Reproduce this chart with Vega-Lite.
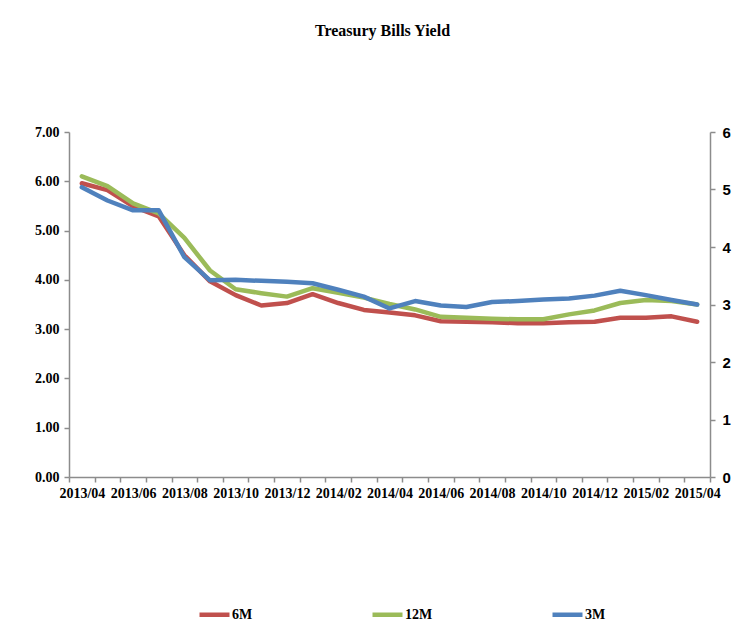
{
  "$schema": "https://vega.github.io/schema/vega-lite/v6.json",
  "width": 641,
  "height": 345,
  "autosize": {"type": "none"},
  "padding": {"left": 69, "top": 132, "right": 35, "bottom": 150},
  "background": "white",
  "title": {"text": "Treasury Bills Yield", "font": "Liberation Serif", "fontSize": 16, "fontWeight": "bold", "color": "#000000", "offset": 86, "dx": -7, "anchor": "middle"},
  "datasets": {
    "yields": [
      {"month": "2013/04", "series": "6M", "yield": 5.96}, {"month": "2013/05", "series": "6M", "yield": 5.82}, {"month": "2013/06", "series": "6M", "yield": 5.49}, {"month": "2013/07", "series": "6M", "yield": 5.29}, {"month": "2013/08", "series": "6M", "yield": 4.50}, {"month": "2013/09", "series": "6M", "yield": 3.97}, {"month": "2013/10", "series": "6M", "yield": 3.69}, {"month": "2013/11", "series": "6M", "yield": 3.48}, {"month": "2013/12", "series": "6M", "yield": 3.53}, {"month": "2014/01", "series": "6M", "yield": 3.71}, {"month": "2014/02", "series": "6M", "yield": 3.53}, {"month": "2014/03", "series": "6M", "yield": 3.39}, {"month": "2014/04", "series": "6M", "yield": 3.34}, {"month": "2014/05", "series": "6M", "yield": 3.28}, {"month": "2014/06", "series": "6M", "yield": 3.16}, {"month": "2014/07", "series": "6M", "yield": 3.15}, {"month": "2014/08", "series": "6M", "yield": 3.14}, {"month": "2014/09", "series": "6M", "yield": 3.12}, {"month": "2014/10", "series": "6M", "yield": 3.12}, {"month": "2014/11", "series": "6M", "yield": 3.14}, {"month": "2014/12", "series": "6M", "yield": 3.15}, {"month": "2015/01", "series": "6M", "yield": 3.23}, {"month": "2015/02", "series": "6M", "yield": 3.23}, {"month": "2015/03", "series": "6M", "yield": 3.26}, {"month": "2015/04", "series": "6M", "yield": 3.15},
      {"month": "2013/04", "series": "12M", "yield": 6.10}, {"month": "2013/05", "series": "12M", "yield": 5.90}, {"month": "2013/06", "series": "12M", "yield": 5.55}, {"month": "2013/07", "series": "12M", "yield": 5.35}, {"month": "2013/08", "series": "12M", "yield": 4.85}, {"month": "2013/09", "series": "12M", "yield": 4.19}, {"month": "2013/10", "series": "12M", "yield": 3.81}, {"month": "2013/11", "series": "12M", "yield": 3.73}, {"month": "2013/12", "series": "12M", "yield": 3.66}, {"month": "2014/01", "series": "12M", "yield": 3.83}, {"month": "2014/02", "series": "12M", "yield": 3.74}, {"month": "2014/03", "series": "12M", "yield": 3.64}, {"month": "2014/04", "series": "12M", "yield": 3.51}, {"month": "2014/05", "series": "12M", "yield": 3.40}, {"month": "2014/06", "series": "12M", "yield": 3.25}, {"month": "2014/07", "series": "12M", "yield": 3.23}, {"month": "2014/08", "series": "12M", "yield": 3.21}, {"month": "2014/09", "series": "12M", "yield": 3.20}, {"month": "2014/10", "series": "12M", "yield": 3.20}, {"month": "2014/11", "series": "12M", "yield": 3.30}, {"month": "2014/12", "series": "12M", "yield": 3.38}, {"month": "2015/01", "series": "12M", "yield": 3.53}, {"month": "2015/02", "series": "12M", "yield": 3.59}, {"month": "2015/03", "series": "12M", "yield": 3.57}, {"month": "2015/04", "series": "12M", "yield": 3.50},
      {"month": "2013/04", "series": "3M", "yield": 5.88}, {"month": "2013/05", "series": "3M", "yield": 5.61}, {"month": "2013/06", "series": "3M", "yield": 5.41}, {"month": "2013/07", "series": "3M", "yield": 5.41}, {"month": "2013/08", "series": "3M", "yield": 4.46}, {"month": "2013/09", "series": "3M", "yield": 3.99}, {"month": "2013/10", "series": "3M", "yield": 4.00}, {"month": "2013/11", "series": "3M", "yield": 3.98}, {"month": "2013/12", "series": "3M", "yield": 3.96}, {"month": "2014/01", "series": "3M", "yield": 3.93}, {"month": "2014/02", "series": "3M", "yield": 3.80}, {"month": "2014/03", "series": "3M", "yield": 3.66}, {"month": "2014/04", "series": "3M", "yield": 3.42}, {"month": "2014/05", "series": "3M", "yield": 3.57}, {"month": "2014/06", "series": "3M", "yield": 3.48}, {"month": "2014/07", "series": "3M", "yield": 3.45}, {"month": "2014/08", "series": "3M", "yield": 3.55}, {"month": "2014/09", "series": "3M", "yield": 3.57}, {"month": "2014/10", "series": "3M", "yield": 3.60}, {"month": "2014/11", "series": "3M", "yield": 3.62}, {"month": "2014/12", "series": "3M", "yield": 3.68}, {"month": "2015/01", "series": "3M", "yield": 3.78}, {"month": "2015/02", "series": "3M", "yield": 3.69}, {"month": "2015/03", "series": "3M", "yield": 3.59}, {"month": "2015/04", "series": "3M", "yield": 3.50}
    ]
  },
  "data": {"name": "yields"},
  "encoding": {
    "x": {
      "field": "month", "type": "ordinal", "sort": null,
      "scale": {"type": "band", "paddingInner": 0, "paddingOuter": 0},
      "axis": {
        "title": null, "domainColor": "#8c8c8c", "domainWidth": 1.5,
        "tickColor": "#8c8c8c", "tickWidth": 1.5, "tickSize": 5, "tickBand": "extent",
        "labelExpr": "toNumber(substring(datum.value, 5)) % 2 == 0 ? datum.value : ''",
        "labelAngle": 0, "labelFont": "Liberation Serif", "labelFontSize": 14, "labelFontWeight": "bold",
        "labelColor": "#000000", "labelPadding": 4, "labelOverlap": false, "labelBound": false, "labelFlush": false
      }
    }
  },
  "layer": [
    {
      "mark": {"type": "line", "strokeWidth": 4.5, "strokeJoin": "round", "strokeCap": "round"},
      "encoding": {
        "y": {
          "field": "yield", "type": "quantitative",
          "scale": {"domain": [0, 7]},
          "axis": {
            "title": null, "orient": "left", "values": [0, 1, 2, 3, 4, 5, 6, 7], "format": ".2f", "grid": false,
            "domainColor": "#8c8c8c", "domainWidth": 1.5, "tickColor": "#8c8c8c", "tickWidth": 1.5, "tickSize": 5,
            "labelFont": "Liberation Serif", "labelFontSize": 14, "labelFontWeight": "bold", "labelColor": "#000000", "labelPadding": 5
          }
        },
        "color": {
          "field": "series", "type": "nominal",
          "scale": {"domain": ["6M", "12M", "3M"], "range": ["#c0504d", "#9bbb59", "#4f81bd"]},
          "legend": {
            "title": null, "orient": "none", "direction": "horizontal", "legendX": 128, "legendY": 465,
            "symbolType": "stroke", "symbolSize": 900, "symbolStrokeWidth": 4.5, "columnPadding": 110, "padding": 0,
            "labelFont": "Liberation Serif", "labelFontSize": 14, "labelFontWeight": "bold", "labelColor": "#000000", "labelOffset": 0
          }
        }
      }
    },
    {
      "mark": {"type": "line", "opacity": 0},
      "encoding": {
        "y": {
          "field": "yield", "type": "quantitative",
          "scale": {"domain": [0, 6]},
          "axis": {
            "title": null, "orient": "right", "values": [0, 1, 2, 3, 4, 5, 6], "format": "d", "grid": false,
            "domainColor": "#8c8c8c", "domainWidth": 1.5, "tickColor": "#8c8c8c", "tickWidth": 1.5, "tickSize": 5,
            "labelFont": "Liberation Sans", "labelFontSize": 15, "labelFontWeight": "bold", "labelColor": "#000000", "labelPadding": 7
          }
        },
        "detail": {"field": "series", "type": "nominal"}
      }
    }
  ],
  "resolve": {"scale": {"y": "independent"}},
  "config": {"view": {"stroke": null}, "axis": {"grid": false}}
}
